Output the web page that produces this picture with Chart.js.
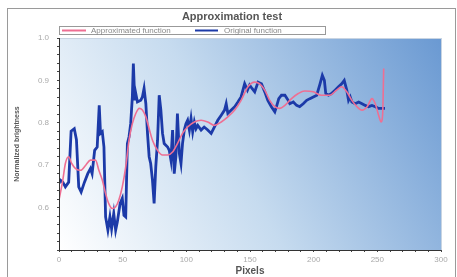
<!DOCTYPE html>
<html>
<head>
<meta charset="utf-8">
<script src="https://cdn.jsdelivr.net/npm/chart.js@4.4.1/dist/chart.umd.min.js"></script>
<style>
  html, body { margin: 0; padding: 0; background: #fff; }
  #wrap { position: relative; width: 457px; height: 277px; }
</style>
</head>
<body>
<div id="wrap"><canvas id="chart" width="457" height="277"></canvas></div>
<script>
// Original function (blue)
const origX = [0, 1, 3, 5, 7.6, 9.5, 12, 13.7, 15.5, 17.4, 20, 22.6, 24.7, 26, 28, 30, 31.6, 32.6, 34, 35.3,
  36.6, 38.4, 40, 41.3, 43, 44.5, 45.8, 48, 49.7, 51, 52.4, 53.7, 55, 56.3, 57.6, 58.4, 59.5, 60.3, 61.6, 64.2,
  65.5, 66.8, 68.2, 69.5, 70.8, 72, 73.4, 74.7, 76, 77.4, 78.7, 80, 81.3, 82.6, 85.3, 86.6, 87.9, 89.2, 90.5, 91.8,
  93, 94.5, 95.8, 97, 98.4, 99.7, 101, 102.4, 103.7, 105, 106.3, 107.6, 109, 111.6, 114, 116.8, 119.5, 122, 124.7, 127.4,
  130, 131.3, 132.6, 135.3, 138, 140.5, 143, 145.8, 148, 149.7, 151.6, 153.7, 156.3, 159, 161.6, 164, 166.8, 169.5, 170.8, 172.6,
  174.7, 177.4, 180, 181.3, 184, 186.6, 189, 191.8, 194.5, 197, 199.7, 202.4, 205, 206.8, 208.4, 209.5, 211.6, 214, 216.8, 219.5,
  222, 224, 226, 227.4, 228.7, 230, 232.6, 235.3, 238, 240.5, 243, 245.8, 248.4, 251, 253.7, 256];
const origY = [0.657, 0.665, 0.66, 0.649, 0.66, 0.78, 0.786, 0.76, 0.649, 0.637, 0.66, 0.68, 0.692, 0.68, 0.735, 0.743, 0.841, 0.775, 0.779, 0.743,
  0.578, 0.547, 0.578, 0.55, 0.586, 0.547, 0.566, 0.61, 0.622, 0.582, 0.578, 0.751, 0.767, 0.798, 0.861, 0.94, 0.853, 0.869, 0.849, 0.853,
  0.861, 0.881, 0.845, 0.775, 0.72, 0.704, 0.665, 0.61, 0.696, 0.759, 0.865, 0.83, 0.775, 0.751, 0.743, 0.735, 0.712, 0.783, 0.68, 0.72,
  0.822, 0.728, 0.704, 0.751, 0.783, 0.798, 0.806, 0.783, 0.81, 0.779, 0.802, 0.786, 0.794, 0.783, 0.79, 0.783, 0.775, 0.79, 0.806, 0.818,
  0.83, 0.845, 0.822, 0.83, 0.838, 0.849, 0.861, 0.892, 0.877, 0.889, 0.881, 0.873, 0.896, 0.892, 0.873, 0.853, 0.838, 0.826, 0.838, 0.857,
  0.865, 0.865, 0.853, 0.845, 0.849, 0.841, 0.838, 0.845, 0.853, 0.857, 0.861, 0.865, 0.892, 0.912, 0.9, 0.869, 0.865, 0.869, 0.877, 0.885,
  0.892, 0.9, 0.877, 0.853, 0.861, 0.849, 0.845, 0.849, 0.845, 0.841, 0.838, 0.841, 0.838, 0.834, 0.834, 0.834];

// Approximated function (pink)
const approxX = [0, 3, 5, 7.6, 10, 13, 17, 21, 24.7, 28.7, 31.3, 34, 36.6, 39, 41.8, 44.5, 47, 49.7, 52.4, 55,
  57.6, 60.3, 63, 65.5, 68.2, 70.8, 73.4, 77.4, 81.3, 85.3, 89.2, 93, 97, 101, 106.3, 111.6, 116.8, 122, 127.4, 132.6,
  138, 143, 148.4, 153.7, 157.6, 161.6, 165.5, 169.5, 173.4, 177.4, 182.6, 187.9, 193, 199.7, 206, 212.6, 218, 222, 226, 230,
  234, 238, 242, 245.8, 248.4, 251, 253, 254.2, 255];
const approxY = [0.618, 0.665, 0.704, 0.72, 0.704, 0.692, 0.688, 0.7, 0.712, 0.712, 0.688, 0.665, 0.633, 0.61, 0.598, 0.602, 0.618, 0.649, 0.696, 0.759,
  0.798, 0.822, 0.834, 0.83, 0.814, 0.786, 0.759, 0.735, 0.724, 0.724, 0.731, 0.751, 0.775, 0.79, 0.802, 0.806, 0.802, 0.794, 0.802, 0.814,
  0.83, 0.853, 0.885, 0.896, 0.892, 0.877, 0.853, 0.838, 0.834, 0.841, 0.857, 0.869, 0.875, 0.873, 0.865, 0.865, 0.877, 0.885, 0.873, 0.853,
  0.838, 0.83, 0.838, 0.857, 0.845, 0.818, 0.802, 0.822, 0.928];

const xTicks = [0, 50, 100, 150, 200, 250, 300];
const yTicks = [0.6, 0.7, 0.8, 0.9, 1.0];

const seriesNames = ["Approximated function", "Original function"];
const pink = "#ee6f93";
const blue = "#1c3aa8";
const FONT = "'Liberation Sans', Arial, sans-serif";

// gradient fill + frame + title + legend
const decor = {
    id: "decor",
    beforeDraw(chart) {
        const { ctx, chartArea: a } = chart;
        ctx.save();
        ctx.strokeStyle = "#9a9a9a";
        ctx.lineWidth = 1;
        ctx.strokeRect(7.5, 8.5, 448, 275);
        let g = ctx.createLinearGradient(a.left, a.bottom, a.right, a.top);
        g.addColorStop(0, "#ffffff");
        g.addColorStop(0.45, "#c6dbef");
        g.addColorStop(1, "#6a99d2");
        ctx.fillStyle = g;
        ctx.fillRect(a.left, a.top, a.right - a.left, a.bottom - a.top);
        ctx.strokeStyle = "#c8d4e2";
        ctx.strokeRect(a.left + 0.5, a.top + 0.5, a.right - a.left, a.bottom - a.top);
        ctx.restore();
    },
    afterDraw(chart) {
        const { ctx, chartArea: a } = chart;
        ctx.save();
        ctx.fillStyle = "#555";
        ctx.font = "bold 11px " + FONT;
        ctx.textAlign = "center";
        ctx.textBaseline = "middle";
        ctx.fillText("Approximation test", 232, 17);

        // legend box
        ctx.fillStyle = "#fff";
        ctx.fillRect(59.5, 26.5, 266, 8);
        ctx.strokeStyle = "#999";
        ctx.lineWidth = 1;
        ctx.strokeRect(59.5, 26.5, 266, 8);
        ctx.lineWidth = 2;
        ctx.strokeStyle = pink;
        ctx.beginPath(); ctx.moveTo(62, 30.5); ctx.lineTo(86, 30.5); ctx.stroke();
        ctx.strokeStyle = blue;
        ctx.beginPath(); ctx.moveTo(195, 30.5); ctx.lineTo(218, 30.5); ctx.stroke();
        ctx.fillStyle = "#888";
        ctx.font = "8px " + FONT;
        ctx.textAlign = "left";
        ctx.fillText(seriesNames[0], 91, 31);
        ctx.fillText(seriesNames[1], 224, 31);

        // dark left and bottom axis lines
        ctx.strokeStyle = "#333";
        ctx.lineWidth = 1;
        ctx.beginPath();
        ctx.moveTo(a.left + 0.5, a.top);
        ctx.lineTo(a.left + 0.5, a.bottom + 0.5);
        ctx.lineTo(a.right, a.bottom + 0.5);
        ctx.stroke();
        ctx.restore();
    }
};

const ctx = document.getElementById("chart").getContext("2d");
new Chart(ctx, {
    type: "line",
    data: {
        datasets: [
            {
                label: seriesNames[1],
                data: origX.map((x, i) => ({ x, y: origY[i] })),
                borderColor: blue,
                borderWidth: 2.8,
                pointRadius: 0,
                tension: 0,
                order: 2
            },
            {
                label: seriesNames[0],
                data: approxX.map((x, i) => ({ x, y: approxY[i] })),
                borderColor: pink,
                borderWidth: 1.6,
                pointRadius: 0,
                tension: 0.4,
                cubicInterpolationMode: "monotone",
                order: 1
            }
        ]
    },
    options: {
        responsive: false,
        animation: false,
        layout: { padding: { left: 13, right: 16, top: 38, bottom: 0 } },
        plugins: { legend: { display: false }, title: { display: false }, tooltip: { enabled: false } },
        scales: {
            x: {
                type: "linear",
                min: 0,
                max: 300,
                afterFit(s) { s.height = 27; },
                afterBuildTicks(s) { s.ticks = []; for (let v = 0; v <= 300; v += 10) s.ticks.push({ value: v }); },
                ticks: {
                    color: "#aaa",
                    font: { size: 8, family: FONT },
                    padding: 3,
                    maxRotation: 0,
                    autoSkip: false,
                    callback: v => xTicks.includes(v) ? String(v) : ""
                },
                grid: { drawOnChartArea: false, color: "#444", tickLength: 2 },
                border: { display: false },
                title: {
                    display: true, text: "Pixels", color: "#555",
                    font: { size: 10, weight: "bold", family: FONT },
                    padding: { top: 0, bottom: 0 }
                }
            },
            y: {
                min: 0.5,
                max: 1.0,
                afterFit(s) { s.width = 46; },
                afterBuildTicks(s) { s.ticks = []; for (let k = 0; k <= 25; k++) s.ticks.push({ value: 0.5 + k * 0.02 }); },
                ticks: {
                    color: "#aaa",
                    font: { size: 8, family: FONT },
                    padding: 8,
                    autoSkip: false,
                    callback: v => {
                        const t = yTicks.find(y => Math.abs(y - v) < 1e-6);
                        return t ? t.toFixed(1) : "";
                    }
                },
                grid: { drawOnChartArea: false, color: "#444", tickLength: 2 },
                border: { display: false },
                title: {
                    display: true, text: "Normalized brightness", color: "#555",
                    font: { size: 7, weight: "bold", family: FONT },
                    padding: { top: 0, bottom: 0 }
                }
            }
        }
    },
    plugins: [decor]
});
</script>
</body>
</html>
